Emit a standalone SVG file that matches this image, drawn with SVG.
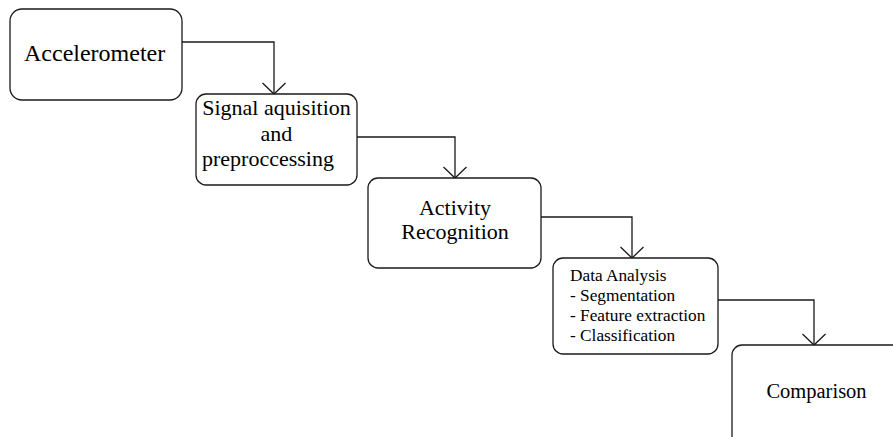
<svg xmlns="http://www.w3.org/2000/svg" width="893" height="437" viewBox="0 0 893 437">
<style>
.box{fill:#fff;stroke:#1a1a1a;stroke-width:1.3}
.t{font-family:"Liberation Serif",serif;fill:#000;font-size:22px}
.ts{font-family:"Liberation Serif",serif;fill:#000;font-size:17.3px}
.c{fill:none;stroke:#1a1a1a;stroke-width:1.3}
</style>
<defs>
<marker id="v" markerUnits="userSpaceOnUse" viewBox="-1 -13 14 26" refX="11" refY="0" markerWidth="14" markerHeight="26" orient="auto" overflow="visible">
<path d="M0,-11.5 L11,0 L0,11.5" fill="none" stroke="#1a1a1a" stroke-width="1.3"/>
</marker>
</defs>
<rect width="893" height="437" fill="#fff"/>
<g id="connectors">
<path class="c" d="M182,42 H274 V94" marker-end="url(#v)"/>
<path class="c" d="M357,137 H455 V178" marker-end="url(#v)"/>
<path class="c" d="M541,217 H632 V258" marker-end="url(#v)"/>
<path class="c" d="M718,300 H814 V345" marker-end="url(#v)"/>
</g>
<g id="accelerometer">
<rect class="box" x="10" y="9" width="172" height="91" rx="12"/>
<text class="t" x="24" y="61" style="font-size:24px">Accelerometer</text>
</g>
<g id="signal">
<rect class="box" x="196" y="94" width="161" height="91" rx="10"/>
<text class="t" x="276.5" y="115" text-anchor="middle">Signal aquisition</text>
<text class="t" x="276.5" y="141" text-anchor="middle">and</text>
<text class="t" x="202" y="166">preproccessing</text>
</g>
<g id="activity">
<rect class="box" x="368" y="178" width="173" height="90" rx="10"/>
<text class="t" x="455" y="215" text-anchor="middle">Activity</text>
<text class="t" x="455" y="239" text-anchor="middle">Recognition</text>
</g>
<g id="analysis">
<rect class="box" x="553" y="258" width="165" height="96" rx="10"/>
<text class="ts" x="570" y="281">Data Analysis</text>
<text class="ts" x="570" y="301">- Segmentation</text>
<text class="ts" x="570" y="321">- Feature extraction</text>
<text class="ts" x="570" y="341">- Classification</text>
</g>
<g id="comparison">
<rect class="box" x="732" y="345" width="180" height="110" rx="10"/>
<text class="t" x="816.5" y="398" text-anchor="middle" style="font-size:20.5px">Comparison</text>
</g>
</svg>
